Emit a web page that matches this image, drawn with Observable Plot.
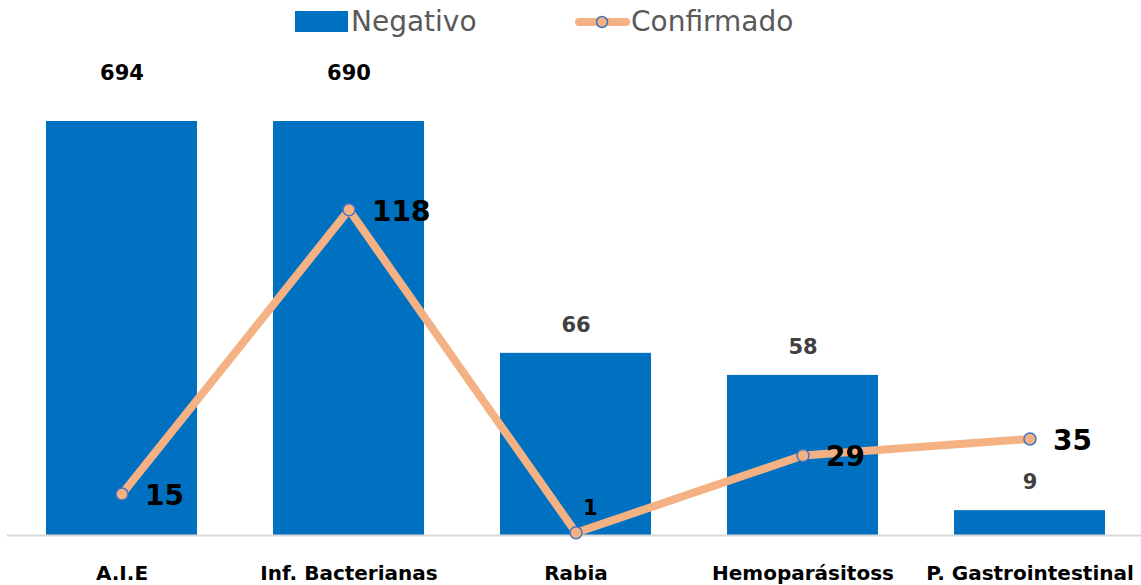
<!DOCTYPE html>
<html><head><meta charset="utf-8">
<script src="https://cdn.jsdelivr.net/npm/d3@7"></script>
<script src="https://cdn.jsdelivr.net/npm/@observablehq/plot@0.6"></script>
<style>
body{margin:0;background:#fff;font-family:"DejaVu Sans",sans-serif;overflow:hidden;}
#legend{height:45px;position:relative;}
.lg{position:absolute;top:5px;font-size:28px;color:#595959;display:flex;align-items:center;font-family:"DejaVu Sans",sans-serif;}
</style></head>
<body>
<div id="legend">
  <div class="lg" style="left:295px"><span style="display:inline-block;width:53px;height:21px;background:#0070C0;margin-right:3px"></span>Negativo</div>
  <div class="lg" style="left:575px"><svg width="55" height="24" style="margin-right:1px"><line x1="4" y1="12" x2="51" y2="12" stroke="#F4B183" stroke-width="8" stroke-linecap="round"/><circle cx="27" cy="12" r="5.5" fill="#F4B183" stroke="#4472C4" stroke-width="1.5"/></svg>Confirmado</div>
</div>
<div id="chart"></div>
<script>
const categories = ["A.I.E", "Inf. Bacterianas", "Rabia", "Hemoparásitoss", "P. Gastrointestinal"];
const negativo = [694, 690, 66, 58, 9];
const confirmado = [15, 118, 1, 29, 35];
const yMax = 150;

const data = categories.map((c, i) => ({cat: c, neg: negativo[i], conf: confirmado[i], negTop: Math.min(negativo[i], yMax)}));
const font = "'DejaVu Sans',sans-serif";

const chart = Plot.plot({
  width: 1141,
  height: 540,
  marginTop: 76,
  marginBottom: 50,
  marginLeft: 7,
  marginRight: -3,
  x: {domain: categories, paddingInner: 0.336, paddingOuter: 0.168, axis: null},
  y: {domain: [0, yMax], axis: null},
  style: {fontFamily: font, overflow: "visible"},
  marks: [
    Plot.barY(data, {x: "cat", y: "neg", fill: "#0070C0", clip: true}),
    Plot.ruleY([0], {stroke: "#D9D9D9", strokeWidth: 2}),
    Plot.text(data.filter(d => d.neg > yMax), {x: "cat", y: "negTop", text: d => String(d.neg),
      dy: -48, fill: "#000", fontSize: 21, fontWeight: "bold"}),
    Plot.text(data.filter(d => d.neg <= yMax), {x: "cat", y: "negTop", text: d => String(d.neg),
      dy: -28, fill: "#404040", fontSize: 21, fontWeight: "bold"}),
    Plot.line(data, {x: "cat", y: "conf", stroke: "#F4B183", strokeWidth: 8, strokeLinejoin: "round"}),
    Plot.dot(data, {x: "cat", y: "conf", r: 6, fill: "#F4B183", stroke: "#4472C4", strokeWidth: 1.5}),
    Plot.text(data.filter(d => d.conf >= 5), {x: "cat", y: "conf", text: d => String(d.conf),
      textAnchor: "start", dx: 23, dy: 2, fontSize: 28, fill: "#000", fontWeight: "bold"}),
    Plot.text(data.filter(d => d.conf < 5), {x: "cat", y: "conf", text: d => String(d.conf),
      textAnchor: "start", dx: 7, dy: -24, fontSize: 21, fill: "#000", fontWeight: "bold"}),
    Plot.axisX({tickSize: 0, tickPadding: 30, fontSize: 20, fontWeight: "bold", fill: "#000", label: null})
  ]
});
chart.querySelectorAll("text").forEach(t => t.style.fontWeight = "bold");
document.getElementById("chart").appendChild(chart);
</script>
</body></html>
